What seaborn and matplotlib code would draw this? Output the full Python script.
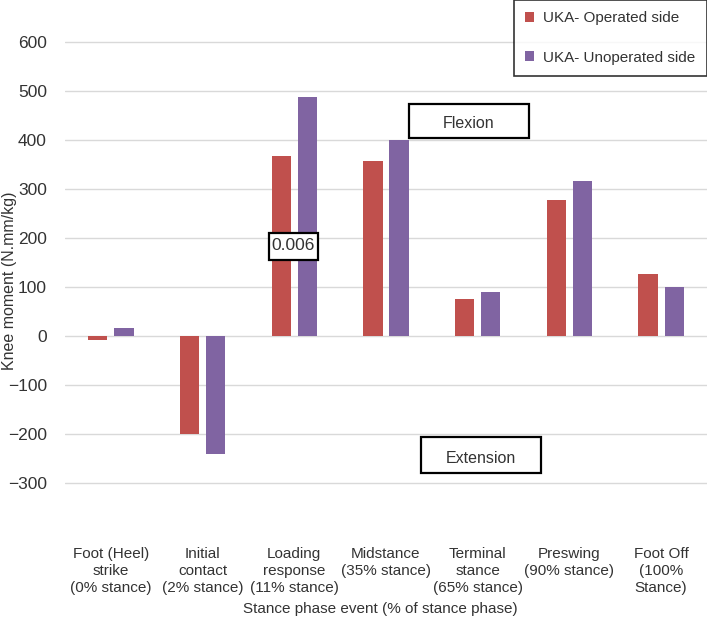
import matplotlib
matplotlib.use("Agg")
import matplotlib.pyplot as plt
from matplotlib.patches import Rectangle
import seaborn as sns
import pandas as pd

categories = ["Foot (Heel)\nstrike\n(0% stance)", "Initial\ncontact\n(2% stance)",
              "Loading\nresponse\n(11% stance)", "Midstance\n(35% stance)",
              "Terminal\nstance\n(65% stance)", "Preswing\n(90% stance)",
              "Foot Off\n(100%\nStance)"]
operated = [-8, -200, 367, 358, 76, 278, 126]
unoperated = [17, -240, 487, 400, 90, 316, 100]
series_names = ["UKA- Operated side", "UKA- Unoperated side"]
yticks = [-300, -200, -100, 0, 100, 200, 300, 400, 500, 600]

sns.set_theme(style="white")
plt.rcParams["font.family"] = ["Liberation Sans", "DejaVu Sans"]

df = pd.DataFrame({
    "cat": categories * 2,
    "val": operated + unoperated,
    "series": [series_names[0]] * 7 + [series_names[1]] * 7,
})

fig = plt.figure(figsize=(7.07, 6.24), dpi=100)
ax = fig.add_axes([65 / 707, 1 - 532 / 624, 1 - 65 / 707, 532 / 624])
sns.barplot(data=df, x="cat", y="val", hue="series", order=categories,
            hue_order=series_names,
            palette={series_names[0]: "#C0504D", series_names[1]: "#8064A2"},
            width=0.57, gap=0.26, ax=ax, zorder=3, saturation=1, linewidth=0)

ax.set_ylim(-400, 686)
ax.set_xlim(-0.5, 6.5)
ax.set_yticks(yticks)
ax.yaxis.grid(True, color="#d9d9d9", linewidth=1, zorder=0)
ax.xaxis.grid(False)
for s in ax.spines.values():
    s.set_visible(False)
ax.tick_params(axis="both", length=0, colors="#333333")
ax.tick_params(axis="y", pad=13, labelsize=12.5)
ax.tick_params(axis="x", pad=11, labelsize=11)
for lab in ax.get_xticklabels():
    lab.set_linespacing(1.28)
ax.set_xlabel("Stance phase event (% of stance phase)", fontsize=11, color="#333333")
ax.xaxis.set_label_coords((380 - 65) / 642, (532 - 609) / 532)
ax.xaxis.label.set_va("center")
ax.set_ylabel("")
fig.text(10 / 707, 1 - 281 / 624, "Knee moment (N.mm/kg)", rotation=90,
         ha="center", va="center", fontsize=11.5, color="#333333")

# annotation boxes
def box(x0, x1, y0, y1, text, ty, fs):
    ax.add_patch(Rectangle((x0, y0), x1 - x0, y1 - y0, facecolor="white",
                           edgecolor="black", linewidth=1.6, zorder=5))
    ax.text((x0 + x1) / 2, ty, text, ha="center", va="center", fontsize=fs,
            color="#333333", zorder=6)

box(1.72, 2.26, 155, 210, "0.006", 184, 12.5)
box(3.25, 4.56, 404, 473, "Flexion", 433, 11.5)
box(3.38, 4.69, -280, -206, "Extension", -249, 11.5)

leg = ax.legend(loc="upper right", bbox_to_anchor=(1.0, 1.0), frameon=True,
                fancybox=False, edgecolor="black", fontsize=11,
                handlelength=0.6, handleheight=0.6, labelspacing=1.65,
                borderpad=0.75, handletextpad=0.6, borderaxespad=0.0)
leg.get_frame().set_linewidth(1.2)
for t in leg.get_texts():
    t.set_color("#333333")

fig.savefig("out.png", dpi=100)
